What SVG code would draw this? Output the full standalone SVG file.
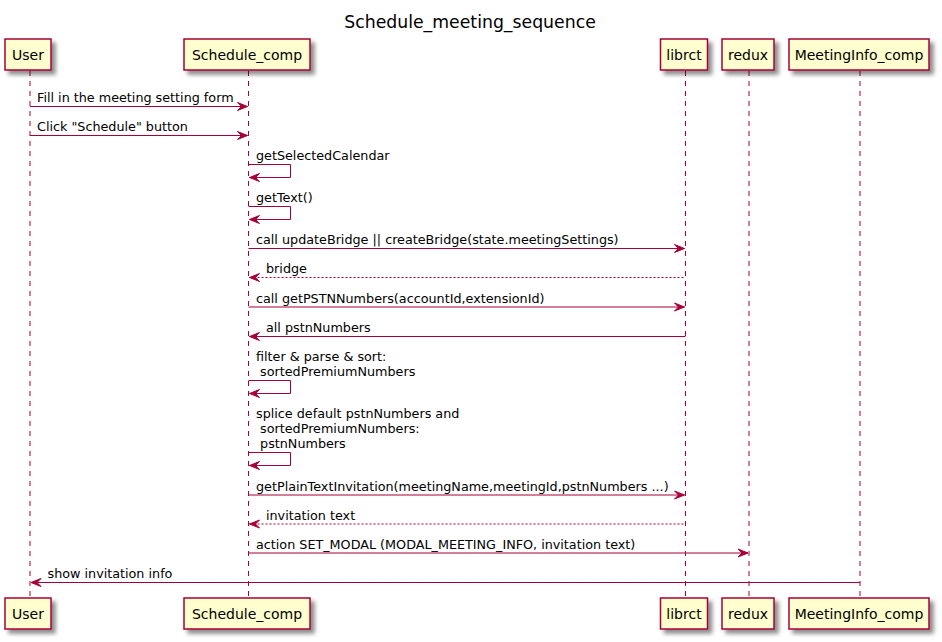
<svg xmlns="http://www.w3.org/2000/svg" width="942" height="642" viewBox="0 0 942 642">
<defs>
<filter id="sh" x="-10%" y="-20%" width="130%" height="160%">
<feGaussianBlur in="SourceAlpha" stdDeviation="2" result="b"/>
<feColorMatrix in="b" type="matrix" values="0 0 0 0 0  0 0 0 0 0  0 0 0 0 0  0 0 0 0.45 0" result="c"/>
<feOffset in="c" dx="4" dy="4" result="o"/>
<feMerge><feMergeNode in="o"/><feMergeNode in="SourceGraphic"/></feMerge>
</filter>
</defs>
<style>
.t{font-family:"DejaVu Sans","Liberation Sans",sans-serif;fill:#000}
.m{font-size:12.75px}
.p{font-size:14px}
.box{fill:#FEFECE;stroke:#A80036;stroke-width:1.5}
.life{stroke:#A80036;stroke-width:1;stroke-dasharray:5,5;fill:none}
.ln{stroke:#A80036;stroke-width:1;fill:none}
.dl{stroke:#A80036;stroke-width:1;stroke-dasharray:2,2;fill:none}
.ah{fill:#A80036;stroke:#A80036;stroke-width:1}
</style>
<rect width="942" height="642" fill="#FFFFFF"/>
<text class="t" x="470" y="28" font-size="17.3" text-anchor="middle">Schedule_meeting_sequence</text>

<g id="lifelines">
<line class="life" x1="30" y1="71" x2="30" y2="598"/>
<line class="life" x1="248.5" y1="71" x2="248.5" y2="598"/>
<line class="life" x1="685.5" y1="71" x2="685.5" y2="598"/>
<line class="life" x1="749" y1="71" x2="749" y2="598"/>
<line class="life" x1="860" y1="71" x2="860" y2="598"/>
</g>

<g id="User">
<rect class="box" filter="url(#sh)" x="5" y="39" width="46" height="31"/>
<text class="t p" x="28" y="59.5" text-anchor="middle">User</text>
<rect class="box" filter="url(#sh)" x="5" y="598" width="46" height="31"/>
<text class="t p" x="28" y="618.5" text-anchor="middle">User</text>
</g>
<g id="Schedule_comp">
<rect class="box" filter="url(#sh)" x="184" y="39" width="126" height="31"/>
<text class="t p" x="247" y="59.5" text-anchor="middle">Schedule_comp</text>
<rect class="box" filter="url(#sh)" x="184" y="598" width="126" height="31"/>
<text class="t p" x="247" y="618.5" text-anchor="middle">Schedule_comp</text>
</g>
<g id="librct">
<rect class="box" filter="url(#sh)" x="660.5" y="39" width="47" height="31"/>
<text class="t p" x="684" y="59.5" text-anchor="middle">librct</text>
<rect class="box" filter="url(#sh)" x="660.5" y="598" width="47" height="31"/>
<text class="t p" x="684" y="618.5" text-anchor="middle">librct</text>
</g>
<g id="redux">
<rect class="box" filter="url(#sh)" x="722" y="39" width="52" height="31"/>
<text class="t p" x="748" y="59.5" text-anchor="middle">redux</text>
<rect class="box" filter="url(#sh)" x="722" y="598" width="52" height="31"/>
<text class="t p" x="748" y="618.5" text-anchor="middle">redux</text>
</g>
<g id="MeetingInfo_comp">
<rect class="box" filter="url(#sh)" x="789" y="39" width="140" height="31"/>
<text class="t p" x="859" y="59.5" text-anchor="middle">MeetingInfo_comp</text>
<rect class="box" filter="url(#sh)" x="789" y="598" width="140" height="31"/>
<text class="t p" x="859" y="618.5" text-anchor="middle">MeetingInfo_comp</text>
</g>

<g id="connectors">
<line class="ln" x1="30" y1="106.5" x2="247.5" y2="106.5"/>
<polygon class="ah" points="237.5,102.5 247.5,106.5 237.5,110.5 241.5,106.5"/>
<text class="t m" x="37" y="101.5">Fill in the meeting setting form</text>
<line class="ln" x1="30" y1="135.5" x2="247.5" y2="135.5"/>
<polygon class="ah" points="237.5,131.5 247.5,135.5 237.5,139.5 241.5,135.5"/>
<text class="t m" x="37" y="130.5">Click "Schedule" button</text>
<polyline class="ln" points="248.5,164.5 290.5,164.5 290.5,177.5 249.5,177.5"/>
<polygon class="ah" points="259.5,173.5 249.5,177.5 259.5,181.5 255.5,177.5"/>
<text class="t m" x="256" y="160">getSelectedCalendar</text>
<polyline class="ln" points="248.5,206.5 290.5,206.5 290.5,219.5 249.5,219.5"/>
<polygon class="ah" points="259.5,215.5 249.5,219.5 259.5,223.5 255.5,219.5"/>
<text class="t m" x="256" y="202">getText()</text>
<line class="ln" x1="248.5" y1="248.5" x2="684.5" y2="248.5"/>
<polygon class="ah" points="674.5,244.5 684.5,248.5 674.5,252.5 678.5,248.5"/>
<text class="t m" x="256" y="244">call updateBridge || createBridge(state.meetingSettings)</text>
<line class="dl" x1="249.5" y1="277.5" x2="685.5" y2="277.5"/>
<polygon class="ah" points="259.5,273.5 249.5,277.5 259.5,281.5 255.5,277.5"/>
<text class="t m" x="266" y="273">bridge</text>
<line class="ln" x1="248.5" y1="307" x2="684.5" y2="307"/>
<polygon class="ah" points="674.5,303 684.5,307 674.5,311 678.5,307"/>
<text class="t m" x="256" y="302.5">call getPSTNNumbers(accountId,extensionId)</text>
<line class="ln" x1="249.5" y1="336.5" x2="685.5" y2="336.5"/>
<polygon class="ah" points="259.5,332.5 249.5,336.5 259.5,340.5 255.5,336.5"/>
<text class="t m" x="266" y="332">all pstnNumbers</text>
<polyline class="ln" points="248.5,380.5 290.5,380.5 290.5,393.5 249.5,393.5"/>
<polygon class="ah" points="259.5,389.5 249.5,393.5 259.5,397.5 255.5,393.5"/>
<text class="t m" x="256" y="361">filter &amp; parse &amp; sort:</text>
<text class="t m" x="256" y="376" xml:space="preserve"> sortedPremiumNumbers</text>
<polyline class="ln" points="248.5,452.5 290.5,452.5 290.5,465.5 249.5,465.5"/>
<polygon class="ah" points="259.5,461.5 249.5,465.5 259.5,469.5 255.5,465.5"/>
<text class="t m" x="256" y="418">splice default pstnNumbers and</text>
<text class="t m" x="256" y="433" xml:space="preserve"> sortedPremiumNumbers:</text>
<text class="t m" x="256" y="448" xml:space="preserve"> pstnNumbers</text>
<line class="ln" x1="248.5" y1="495" x2="684.5" y2="495"/>
<polygon class="ah" points="674.5,491 684.5,495 674.5,499 678.5,495"/>
<text class="t m" x="256" y="490.5">getPlainTextInvitation(meetingName,meetingId,pstnNumbers ...)</text>
<line class="dl" x1="249.5" y1="524" x2="685.5" y2="524"/>
<polygon class="ah" points="259.5,520 249.5,524 259.5,528 255.5,524"/>
<text class="t m" x="266" y="519.5">invitation text</text>
<line class="ln" x1="248.5" y1="553" x2="748" y2="553"/>
<polygon class="ah" points="738,549 748,553 738,557 742,553"/>
<text class="t m" x="256" y="548.5">action SET_MODAL (MODAL_MEETING_INFO, invitation text)</text>
<line class="ln" x1="31" y1="582.5" x2="860" y2="582.5"/>
<polygon class="ah" points="41,578.5 31,582.5 41,586.5 37,582.5"/>
<text class="t m" x="47.5" y="578">show invitation info</text>
</g>
</svg>
